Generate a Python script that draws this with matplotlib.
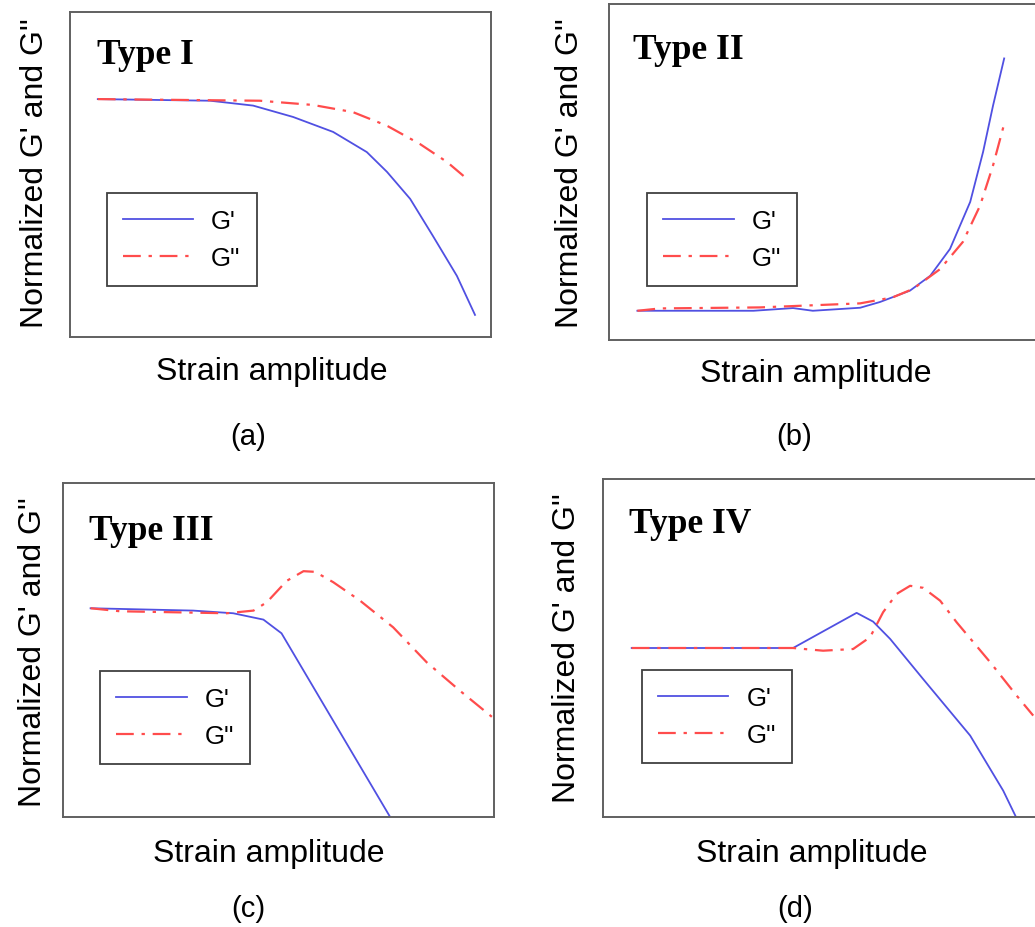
import matplotlib
matplotlib.use('Agg')
import matplotlib.pyplot as plt

# curves, in % of each plot box (x: strain, y: normalized modulus)
a_x_g1 = [6.6, 33.3, 43.5, 53.0, 62.5, 70.5, 75.3, 80.8, 86.2, 91.9, 96.2]
a_y_g1 = [73.2, 72.7, 71.2, 67.7, 63.1, 56.9, 50.8, 42.5, 31.1, 18.8, 6.8]
a_x_g2 = [6.6, 45.1, 57.7, 67.2, 75.3, 83.1, 89.6, 94.8]
a_y_g2 = [73.2, 72.7, 71.4, 69.2, 65.0, 59.4, 53.8, 48.1]

b_x_g1 = [6.6, 33.6, 42.8, 47.4, 58.4, 63.0, 70.0, 74.7, 79.3, 84.0, 87.0, 89.3, 91.9]
b_y_g1 = [8.7, 8.7, 9.5, 8.7, 9.6, 11.3, 14.7, 19.1, 27.1, 41.1, 56.0, 69.7, 83.8]
b_x_g2 = [6.6, 11.9, 35.1, 58.4, 66.0, 70.7, 77.0, 82.3, 86.3, 89.3, 91.9]
b_y_g2 = [8.7, 9.4, 9.7, 10.9, 12.7, 15.2, 21.1, 29.2, 40.0, 51.9, 64.3]

c_x_g1 = [6.4, 30.2, 39.5, 46.5, 50.7, 62.7, 75.9]
c_y_g1 = [62.5, 61.8, 61.0, 59.1, 55.0, 28.8, 0.0]
c_x_g2 = [6.4, 13.2, 38.0, 44.2, 47.3, 51.9, 55.8, 58.5, 62.7, 68.9, 76.6, 84.4, 92.1, 99.5]
c_y_g2 = [62.5, 61.6, 61.0, 61.8, 64.3, 70.7, 73.6, 73.4, 70.3, 64.8, 56.8, 46.3, 37.8, 30.0]

d_x_g1 = [6.6, 43.7, 58.3, 62.1, 66.0, 73.6, 84.4, 92.0, 94.9]
d_y_g1 = [50.0, 50.0, 60.4, 57.8, 52.7, 40.8, 24.1, 7.8, 0.1]
d_x_g2 = [6.6, 43.7, 50.6, 57.5, 61.4, 64.4, 67.5, 70.6, 73.6, 77.5, 81.3, 89.0, 95.1, 98.9]
d_y_g2 = [50.0, 50.0, 49.2, 49.7, 53.2, 60.6, 66.0, 68.4, 67.8, 64.0, 57.6, 45.8, 35.9, 30.0]

panel_titles = ['Type I', 'Type II', 'Type III', 'Type IV']
panel_tags = ['(a)', '(b)', '(c)', '(d)']
series_labels = ["G'", "G''"]

W, H = 1035, 928
SANS = ['Liberation Sans', 'DejaVu Sans']
SERIF = ['Liberation Serif', 'DejaVu Serif']
BLUE = '#5050e2'
RED = '#ff4c4c'


def px_box(left, top, width, height):
    return [left / W, 1 - (top + height) / H, width / W, height / H]


fig = plt.figure(figsize=(W / 100, H / 100), dpi=100)

# box in pixels, title position, legend anchor, xlabel centre, ylabel centre, tag centre
panels = [
    dict(box=(70, 13, 421, 325), xs=(a_x_g1, a_x_g2), ys=(a_y_g1, a_y_g2),
         title=(0.063, 0.843), leg=(0.087, 0.158), xl=(272, 372), yl=(35, 173), tag=(248, 437)),
    dict(box=(609, 5, 430, 336), xs=(b_x_g1, b_x_g2), ys=(b_y_g1, b_y_g2),
         title=(0.055, 0.838), leg=(0.089, 0.162), xl=(816, 374), yl=(570, 173), tag=(794, 437)),
    dict(box=(63, 484, 431, 334), xs=(c_x_g1, c_x_g2), ys=(c_y_g1, c_y_g2),
         title=(0.061, 0.832), leg=(0.086, 0.159), xl=(269, 854), yl=(33, 652), tag=(248, 909)),
    dict(box=(603, 480, 435, 338), xs=(d_x_g1, d_x_g2), ys=(d_y_g1, d_y_g2),
         title=(0.060, 0.842), leg=(0.089, 0.160), xl=(812, 854), yl=(567, 648), tag=(795, 909)),
]

for i, p in enumerate(panels):
    ax = fig.add_axes(px_box(*p['box']))
    ax.plot(p['xs'][0], p['ys'][0], color=BLUE, lw=1.3, label=series_labels[0])
    ax.plot(p['xs'][1], p['ys'][1], color=RED, lw=1.6,
            linestyle=(0, (8, 3.5, 1.5, 3.5)), label=series_labels[1])
    ax.set_xlim(0, 100)
    ax.set_ylim(0, 100)
    ax.set_xticks([])
    ax.set_yticks([])
    for s in ax.spines.values():
        s.set_color('#606060')
        s.set_linewidth(1.4)

    ax.text(p['title'][0], p['title'][1], panel_titles[i], transform=ax.transAxes,
            family=SERIF, fontweight='bold', fontsize=25.5, va='baseline', ha='left')

    leg = ax.legend(loc='lower left', bbox_to_anchor=p['leg'], borderaxespad=0,
                    fancybox=False, framealpha=1, edgecolor='#404040',
                    prop={'family': SANS, 'size': 18.5}, handlelength=2.75,
                    handletextpad=0.7, borderpad=0.62, labelspacing=0.5)
    leg.get_frame().set_linewidth(1.3)

    fig.text(p['xl'][0] / W, 1 - p['xl'][1] / H, 'Strain amplitude', family=SANS,
             fontsize=23, ha='center', va='center')
    fig.text(p['yl'][0] / W, 1 - p['yl'][1] / H, "Normalized G' and G''", family=SANS,
             fontsize=23, ha='center', va='center', rotation=90)
    fig.text(p['tag'][0] / W, 1 - p['tag'][1] / H, panel_tags[i], family=SANS,
             fontsize=21, ha='center', va='center')

fig.savefig('out.png', dpi=100)
